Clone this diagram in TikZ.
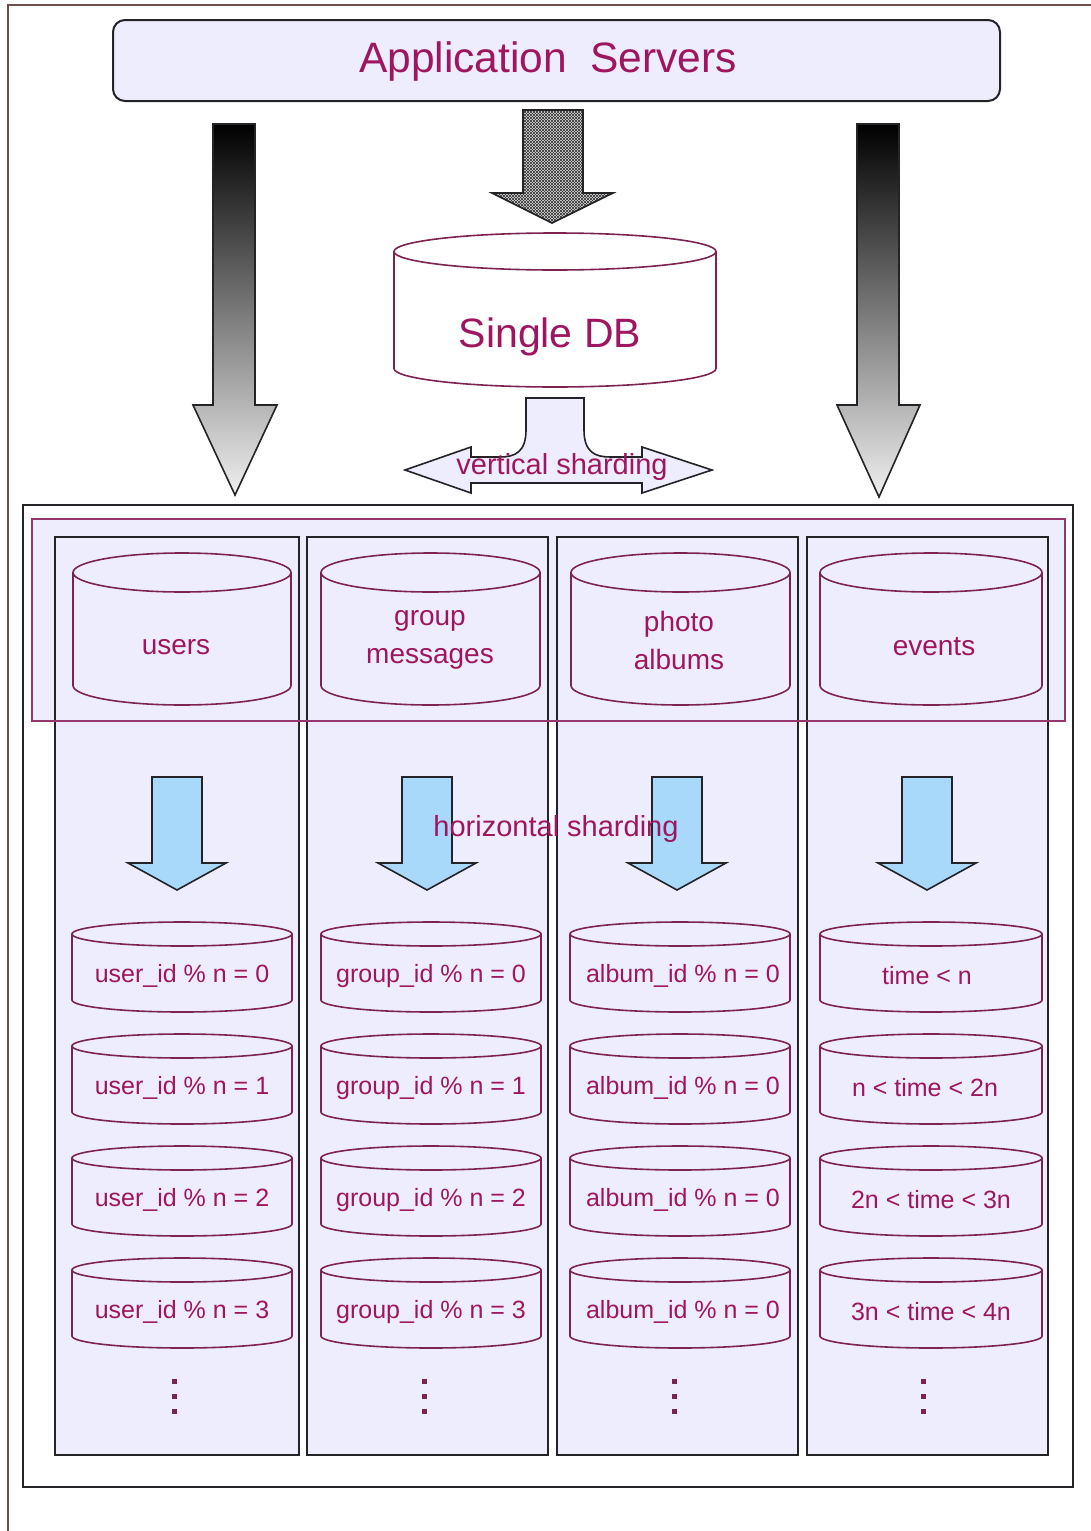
\documentclass[tikz,border=0pt]{standalone}
\usepackage{fontspec}
\setmainfont{Liberation Sans}
\usetikzlibrary{patterns}
\definecolor{lav}{RGB}{237,237,253}
\definecolor{txt}{RGB}{158,22,95}
\definecolor{cylc}{RGB}{125,35,80}
\definecolor{pinkb}{RGB}{150,55,110}
\definecolor{framec}{RGB}{110,80,80}
\definecolor{blu}{RGB}{168,216,250}
\definecolor{edgec}{RGB}{35,35,40}
\newcommand\mycyl[6]{%
  \pgfmathsetmacro\cylrx{(#2-#1)/2}%
  \pgfmathsetmacro\cylya{#3+#5}%
  \pgfmathsetmacro\cylyb{#4-#5}%
  \path[#6] (#1,\cylya) -- (#1,\cylyb) arc[start angle=180,end angle=360,x radius=\cylrx pt,y radius=#5pt] -- (#2,\cylya) arc[start angle=0,end angle=180,x radius=\cylrx pt,y radius=#5pt] -- cycle;
  \draw[cylline] (#1,\cylya) arc[start angle=180,end angle=360,x radius=\cylrx pt,y radius=#5pt];
}
\tikzset{
  colbox/.style={draw=edgec, line width=2pt, fill=lav, inner sep=0pt, outer sep=0pt},
  cylbody/.style={draw=cylc, line width=1.6pt, fill=lav},
  cylwhite/.style={draw=cylc, line width=1.6pt, fill=white},
  cylline/.style={draw=cylc, line width=1.6pt},
  lbl/.style={text=txt, font=\fontsize{28}{38}\selectfont, align=center, inner sep=0pt},
  smlbl/.style={text=txt, font=\fontsize{25}{30}\selectfont, inner sep=0pt},
  gradarrow/.style={draw=edgec, line width=1.6pt, top color=black, bottom color=white!94!black},
  bluarrow/.style={draw=edgec, line width=1.6pt, fill=blu},
}
\begin{document}
\begin{tikzpicture}[x=1pt,y=-1pt]
\useasboundingbox (0,0) rectangle (1091,1531);
\fill[white] (0,0) rectangle (1091,1531);
% outer frame
\draw[framec, line width=1.6pt] (1091,5) -- (8,5) -- (8,1531);
% application servers
\node[colbox, rounded corners=12pt, minimum width=887pt, minimum height=81pt] (appbox) at (556.5,60.5) {};
\node[text=txt, font=\fontsize{42.5}{50}\selectfont, inner sep=0pt] (apptext) at (548,62) {Application\ \ Servers};
% gradient arrows
\path[gradarrow] (213,124) -- (255,124) -- (255,405) -- (277,405) -- (235,495) -- (193,405) -- (213,405) -- cycle;
\path[gradarrow] (857,124) -- (899,124) -- (899,405) -- (920,405) -- (879,497) -- (837,405) -- (857,405) -- cycle;
% middle hatched arrow
\path[fill=gray!30] (523,110) -- (583,110) -- (583,193) -- (613,193) -- (552,223) -- (492,193) -- (523,193) -- cycle;
\path[pattern=north east lines, pattern color=black!80] (523,110) -- (583,110) -- (583,193) -- (613,193) -- (552,223) -- (492,193) -- (523,193) -- cycle;
\path[pattern=north west lines, pattern color=black!80] (523,110) -- (583,110) -- (583,193) -- (613,193) -- (552,223) -- (492,193) -- (523,193) -- cycle;
\draw[edgec, line width=1.6pt] (523,110) -- (583,110) -- (583,193) -- (613,193) -- (552,223) -- (492,193) -- (523,193) -- cycle;
% single DB
\mycyl{394}{716}{233}{387}{18.5}{cylwhite}
\node[text=txt, font=\fontsize{41}{48}\selectfont, inner sep=0pt] (single) at (550,337) {Single DB};
% vertical sharding arrow
\path[draw=edgec, line width=1.6pt, fill=lav]
  (526,398) -- (584,398) -- (584,430) .. controls (584,452) and (595,457) .. (610,457)
  -- (642,457) -- (642,447) -- (712,470) -- (642,493) -- (642,483)
  -- (471,483) -- (471,493) -- (405,470) -- (471,447) -- (471,457)
  -- (500,457) .. controls (515,457) and (526,452) .. (526,430) -- cycle;
\node[text=txt, font=\fontsize{29}{34}\selectfont, inner sep=0pt] (vs) at (562,467) {vertical sharding};
% big box
\node[draw=edgec, line width=2pt, fill=white, inner sep=0pt, outer sep=0pt, minimum width=1050pt, minimum height=982pt] (big) at (548,996) {};
% vertical group fill
\node[fill=lav, inner sep=0pt, minimum width=1033pt, minimum height=202pt] (vgroupfill) at (548.5,620) {};
% columns
\node[colbox, minimum width=244pt, minimum height=918pt] (col1) at (177,996) {};
\node[colbox, minimum width=241pt, minimum height=918pt] (col2) at (427.5,996) {};
\node[colbox, minimum width=241pt, minimum height=918pt] (col3) at (677.5,996) {};
\node[colbox, minimum width=241pt, minimum height=918pt] (col4) at (927.5,996) {};
% vertical group border
\node[draw=pinkb, line width=1.6pt, inner sep=0pt, minimum width=1033pt, minimum height=202pt] (vgroup) at (548.5,620) {};
% big cylinders
\mycyl{73}{291}{553}{705}{19.5}{cylbody}
\mycyl{321}{540}{553}{705}{19.5}{cylbody}
\mycyl{571}{790}{553}{705}{19.5}{cylbody}
\mycyl{820}{1042}{553}{705}{19.5}{cylbody}
\node[lbl] (users) at (176,647) {users};
\node[lbl] (groupmsg) at (430,640) {group\\messages};
\node[lbl] (photo) at (679,640) {photo\\albums};
\node[lbl] (events) at (934,647) {events};
% blue arrows
\foreach \c in {177,427,677,927}{
  \path[bluarrow] (\c-25,777) -- (\c+25,777) -- (\c+25,863) -- (\c+49,863) -- (\c,890) -- (\c-49,863) -- (\c-25,863) -- cycle;
}
\node[text=txt, font=\fontsize{29}{34}\selectfont, inner sep=0pt] (hs) at (556,829) {horizontal sharding};
% small cylinders
\foreach \cl/\cr in {72/292,321/541,570/790,820/1042}{
  \foreach \r in {0,1,2,3}{
    \pgfmathsetmacro\yt{922+112*\r}
    \pgfmathsetmacro\ybb{1012+112*\r}
    \mycyl{\cl}{\cr}{\yt}{\ybb}{12}{cylbody}
  }
}
\node[smlbl] (u0) at (182,976) {user\_id \% n = 0};
\node[smlbl] (u1) at (182,1088) {user\_id \% n = 1};
\node[smlbl] (u2) at (182,1200) {user\_id \% n = 2};
\node[smlbl] (u3) at (182,1312) {user\_id \% n = 3};
\node[smlbl] (g0) at (431,976) {group\_id \% n = 0};
\node[smlbl] (g1) at (431,1088) {group\_id \% n = 1};
\node[smlbl] (g2) at (431,1200) {group\_id \% n = 2};
\node[smlbl] (g3) at (431,1312) {group\_id \% n = 3};
\node[smlbl] (a0) at (683,976) {album\_id \% n = 0};
\node[smlbl] (a1) at (683,1088) {album\_id \% n = 0};
\node[smlbl] (a2) at (683,1200) {album\_id \% n = 0};
\node[smlbl] (a3) at (683,1312) {album\_id \% n = 0};
\node[smlbl] (t0) at (927,976) {time < n};
\node[smlbl] (t1) at (925,1088) {n < time < 2n};
\node[smlbl] (t2) at (931,1200) {2n < time < 3n};
\node[smlbl] (t3) at (931,1312) {3n < time < 4n};
% dots
\foreach \x in {174,424,674,923}{
  \foreach \y in {1381,1396,1411}{
    \fill[cylc] (\x-2.5,\y-2.5) rectangle (\x+2.5,\y+2.5);
  }
}
\end{tikzpicture}
\end{document}
